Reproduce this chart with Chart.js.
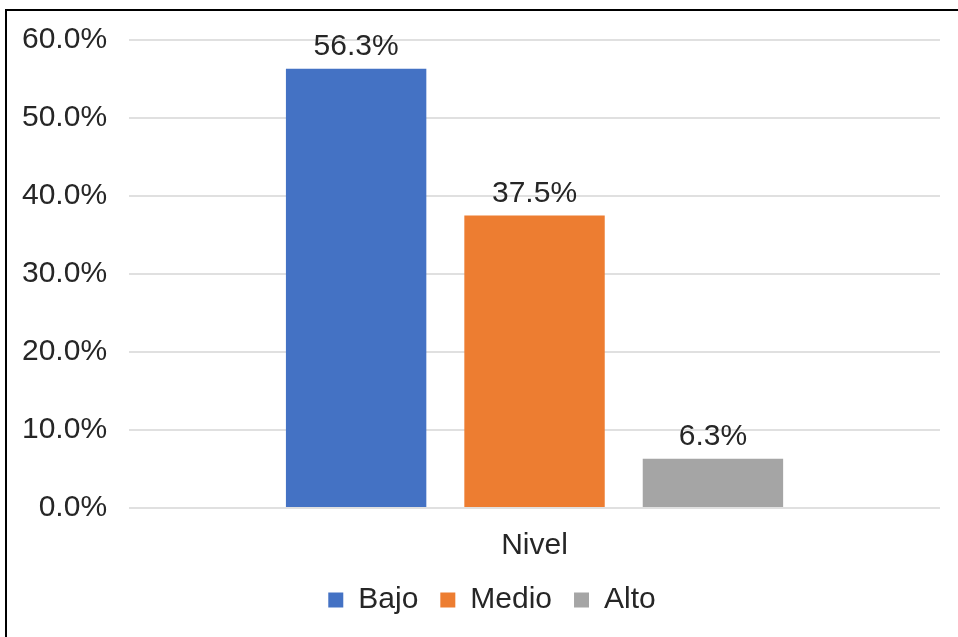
<!DOCTYPE html>
<html>
<head>
<meta charset="utf-8">
<script src="https://cdn.jsdelivr.net/npm/chart.js@4"></script>
<style>
  html, body { margin: 0; padding: 0; background: #fff; }
  #wrap { position: relative; width: 958px; height: 637px; overflow: hidden; }
  #frame {
    position: absolute; left: 5px; top: 9px; width: 1000px; height: 700px;
    border-left: 2px solid #000; border-top: 2px solid #000;
    pointer-events: none;
  }
</style>
</head>
<body>
<div id="wrap">
  <canvas id="chart"></canvas>
  <div id="frame"></div>
</div>
<script>
// Data
const categories = ["Nivel"];
const seriesNames = ["Bajo", "Medio", "Alto"];
const seriesValues = [[56.3], [37.5], [6.3]];
const seriesColors = ["#4472C4", "#ED7D31", "#A5A5A5"];
const yMax = 60;
const yStep = 10;

const textColor = "#262626";
const fontFamily = "'Liberation Sans', Arial, sans-serif";
const fontSize = 30;

// value labels above each bar
const barLabels = {
  id: "barLabels",
  afterDatasetsDraw(chart) {
    const ctx = chart.ctx;
    ctx.save();
    ctx.font = fontSize + "px " + fontFamily;
    ctx.fillStyle = textColor;
    ctx.textAlign = "center";
    ctx.textBaseline = "bottom";
    chart.data.datasets.forEach((ds, i) => {
      chart.getDatasetMeta(i).data.forEach((bar, j) => {
        ctx.fillText(ds.data[j].toFixed(1) + "%", bar.x, bar.y - 7);
      });
    });
    ctx.restore();
  },
};

// nudge the legend a bit right, like the original
const legendShift = {
  id: "legendShift",
  afterLayout(chart) {
    chart.legend.left += 22;
    chart.legend.right += 22;
  },
};

const ctx = document.getElementById("chart").getContext("2d");
const chart = new Chart(ctx, {
  type: "bar",
  data: {
    labels: categories,
    datasets: seriesNames.map((name, i) => ({
      label: name,
      data: seriesValues[i],
      backgroundColor: seriesColors[i],
      categoryPercentage: 0.66,
      barPercentage: 0.787,
    })),
  },
  options: {
    responsive: true,
    maintainAspectRatio: false,
    animation: false,
    layout: {
      padding: { left: 0, right: 18, top: 40, bottom: 12 },
    },
    plugins: {
      tooltip: { enabled: false },
      legend: {
        position: "bottom",
        labels: {
          color: textColor,
          font: { family: fontFamily, size: fontSize },
          boxWidth: 15,
          boxHeight: 15,
          padding: 22,
        },
      },
    },
    scales: {
      x: {
        grid: { display: false, drawTicks: false },
        border: { display: false },
        ticks: {
          color: textColor,
          font: { family: fontFamily, size: fontSize },
          padding: 20,
        },
        afterFit: (scale) => { scale.height = 55; },
      },
      y: {
        min: 0,
        max: yMax,
        border: { display: false },
        grid: { color: "#e0e0e0", lineWidth: 2, drawTicks: false },
        ticks: {
          stepSize: yStep,
          color: textColor,
          font: { family: fontFamily, size: fontSize },
          padding: 22,
          callback: (v) => v.toFixed(1) + "%",
        },
      },
    },
  },
  plugins: [barLabels, legendShift],
});
</script>
</body>
</html>
